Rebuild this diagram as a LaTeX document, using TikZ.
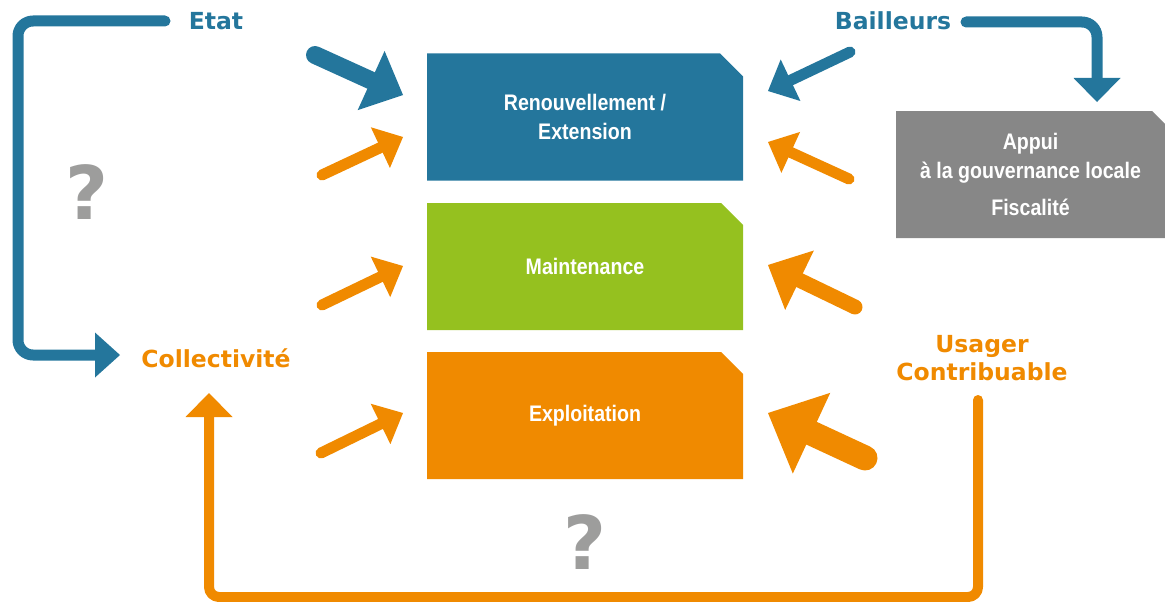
\documentclass[tikz,border=0pt]{standalone}
\usepackage{fontspec}
\setmainfont{Liberation Sans}
\newfontfamily\boxfont[FakeStretch=0.87]{Liberation Sans}
\newfontfamily\labelfont{DejaVu Sans}
\usetikzlibrary{arrows.meta}
\definecolor{bleu}{RGB}{36,118,156}
\definecolor{vert}{RGB}{149,193,31}
\definecolor{orangec}{RGB}{240,138,0}
\definecolor{grisbloc}{RGB}{135,135,135}
\definecolor{grisq}{RGB}{157,157,156}
\tikzset{
	bloc/.style 2 args={minimum width=316, minimum height=127, inner sep=0pt, align=center, text=white,
		font=\boxfont\bfseries\fontsize{22.5}{29}\selectfont,
		path picture={\fill[#1] (path picture bounding box.south west) -- (path picture bounding box.north west)
			-- ([xshift=-#2]path picture bounding box.north east) -- ([yshift=-#2]path picture bounding box.north east)
			-- (path picture bounding box.south east) -- cycle;}},
	acteur/.style={font=\labelfont\bfseries\fontsize{23.5}{29}\selectfont, text=#1, anchor=base},
	question/.style={font=\labelfont\bfseries\fontsize{74}{80}\selectfont, text=grisq},
	fleche/.style n args={4}{draw=#1, line width=#2, line cap=round,
		-{Triangle[length=#3, width=#4, line width=0pt]}},
}
\begin{document}
\begin{tikzpicture}[x=1pt, y=-1pt, line join=round]
	\useasboundingbox (0,0) rectangle (1165,602);
	% blocs
	\node[bloc={bleu}{23pt}] (renouv) at (585,117) {Renouvellement /\\Extension};
	\node[bloc={vert}{22pt}] (maint) at (585,266.5) {Maintenance};
	\node[bloc={orangec}{22pt}] (exploit) at (585,415.5) {Exploitation};
	\node[bloc={grisbloc}{13pt}, minimum width=269] (appui) at (1030.5,174.5)
		{Appui\\à la gouvernance locale\\[8pt]Fiscalité};
	% acteurs
	\node[acteur=bleu] (etat) at (216,30) {Etat};
	\node[acteur=bleu] (bailleurs) at (893,30) {Bailleurs};
	\node[acteur=orangec] (collect) at (216,367) {Collectivité};
	\node[acteur=orangec] (usager) at (982,352) {Usager};
	\node[acteur=orangec] (contrib) at (982,380) {Contribuable};
	\node[question] (q1) at (87,192) {?};
	\node[question] (q2) at (585,542) {?};
	% liaisons
	\coordinate (etatDep) at (165,21);
	\coordinate (etatCoin) at (18,355);
	\coordinate (colFin) at (120,355);
	\coordinate (baiDep) at (966,22);
	\coordinate (appuiFin) at (1097,102);
	\coordinate (usaDep) at (978,400);
	\coordinate (usaCoin) at (978,597);
	\coordinate (colBas) at (209,393);
	\draw[fleche={bleu}{11pt}{25pt}{45pt}, rounded corners=15pt] (etatDep) -| (etatCoin) -- (colFin);
	\draw[fleche={bleu}{11pt}{24pt}{47pt}, rounded corners=15pt] (baiDep) -| (appuiFin);
	\draw[fleche={orangec}{10pt}{24pt}{47pt}, rounded corners=10pt] (usaDep) -- (usaCoin) -| (colBas);
	% fleches vers les blocs
	\coordinate (a1) at (315,55);  \coordinate (b1) at (403,95);
	\coordinate (a2) at (322,175); \coordinate (b2) at (403,137);
	\coordinate (a3) at (850,52);  \coordinate (b3) at (768,91);
	\coordinate (a4) at (849,179); \coordinate (b4) at (768,142);
	\coordinate (a5) at (322,305); \coordinate (b5) at (403,266);
	\coordinate (a6) at (855,307); \coordinate (b6) at (768,265);
	\coordinate (a7) at (321,453); \coordinate (b7) at (403,413);
	\coordinate (a8) at (865,458); \coordinate (b8) at (768,413);
	\draw[fleche={bleu}{18pt}{35pt}{65pt}] (a1) -- (b1);
	\draw[fleche={orangec}{11pt}{25pt}{45pt}] (a2) -- (b2);
	\draw[fleche={bleu}{11pt}{25pt}{46pt}] (a3) -- (b3);
	\draw[fleche={orangec}{11pt}{25pt}{45pt}] (a4) -- (b4);
	\draw[fleche={orangec}{11pt}{25pt}{45pt}] (a5) -- (b5);
	\draw[fleche={orangec}{15pt}{35pt}{66pt}] (a6) -- (b6);
	\draw[fleche={orangec}{11pt}{25pt}{45pt}] (a7) -- (b7);
	\draw[fleche={orangec}{25pt}{48pt}{89pt}] (a8) -- (b8);
\end{tikzpicture}
\end{document}
